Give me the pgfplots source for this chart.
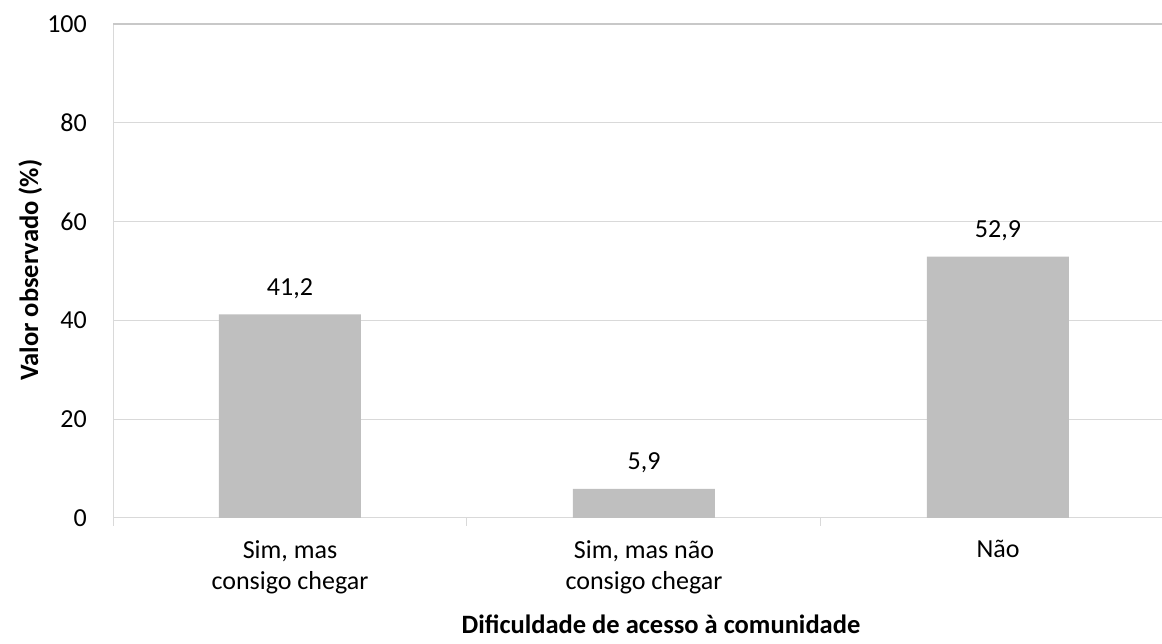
\documentclass[border=0pt]{standalone}
\usepackage{pgfplots}
\pgfplotsset{compat=1.18}
\usepackage{fontspec}
\setmainfont{Carlito}
\definecolor{bargray}{HTML}{BFBFBF}
\definecolor{gridgray}{HTML}{D9D9D9}
\definecolor{topgray}{HTML}{C8C8C8}
\begin{document}
\begin{tikzpicture}
\begin{axis}[
  at={(113bp,126bp)}, anchor=south west,
  width=1062bp, height=494bp, scale only axis,
  xmin=-0.5, xmax=2.5, ymin=0, ymax=100,
  ytick={0,20,...,100},
  ymajorgrids, grid style={draw=gridgray, line width=1bp},
  axis lines=left,
  axis line style={draw=gridgray, line width=1bp, -},
  xtick={0,1,2},
  xticklabels={{Sim, mas\\consigo chegar},{Sim, mas não\\consigo chegar},{Não}},
  major tick length=0pt,
  extra x ticks={-0.5,0.5,1.5,2.5},
  extra x tick labels={},
  extra x tick style={major tick length=8bp, tick align=outside, tick style={draw=gridgray, line width=1bp}, grid=none},
  extra y ticks={100},
  extra y tick labels={},
  extra y tick style={grid=major, major grid style={draw=topgray, line width=1.6bp}},
  /pgf/number format/assume math mode=true,
  tick label style={font=\fontsize{26bp}{31.7bp}\selectfont, inner sep=0pt},
  xticklabel style={align=center, anchor=north, yshift=-22bp},
  yticklabel style={anchor=east, xshift=-26bp},
  ylabel={Valor observado (\%)},
  xlabel={Dificuldade de acesso à comunidade},
  every axis y label/.style={at={(axis description cs:-0.0706,0.502)}, rotate=90, anchor=base, inner sep=0pt, font=\fontsize{26.5bp}{31.7bp}\selectfont\bfseries},
  every axis x label/.style={at={(axis description cs:0.516,-0.2328)}, anchor=base, inner sep=0pt, font=\fontsize{26.5bp}{31.7bp}\selectfont\bfseries},
  ybar, bar width=142bp, bar shift=0pt,
  nodes near coords={\pgfmathprintnumber[fixed,fixed zerofill,precision=1,use comma,assume math mode=true]{\pgfplotspointmeta}},
  every node near coord/.append style={font=\fontsize{26bp}{31.7bp}\selectfont, inner sep=0pt, anchor=base, yshift=19bp, text=black},
]
\addplot[fill=bargray, draw=none] coordinates {(0,41.2) (1,5.9) (2,52.9)};
\end{axis}
\pgfresetboundingbox
\path[use as bounding box] (0,0) rectangle (1162bp,644bp);
\end{tikzpicture}
\end{document}
